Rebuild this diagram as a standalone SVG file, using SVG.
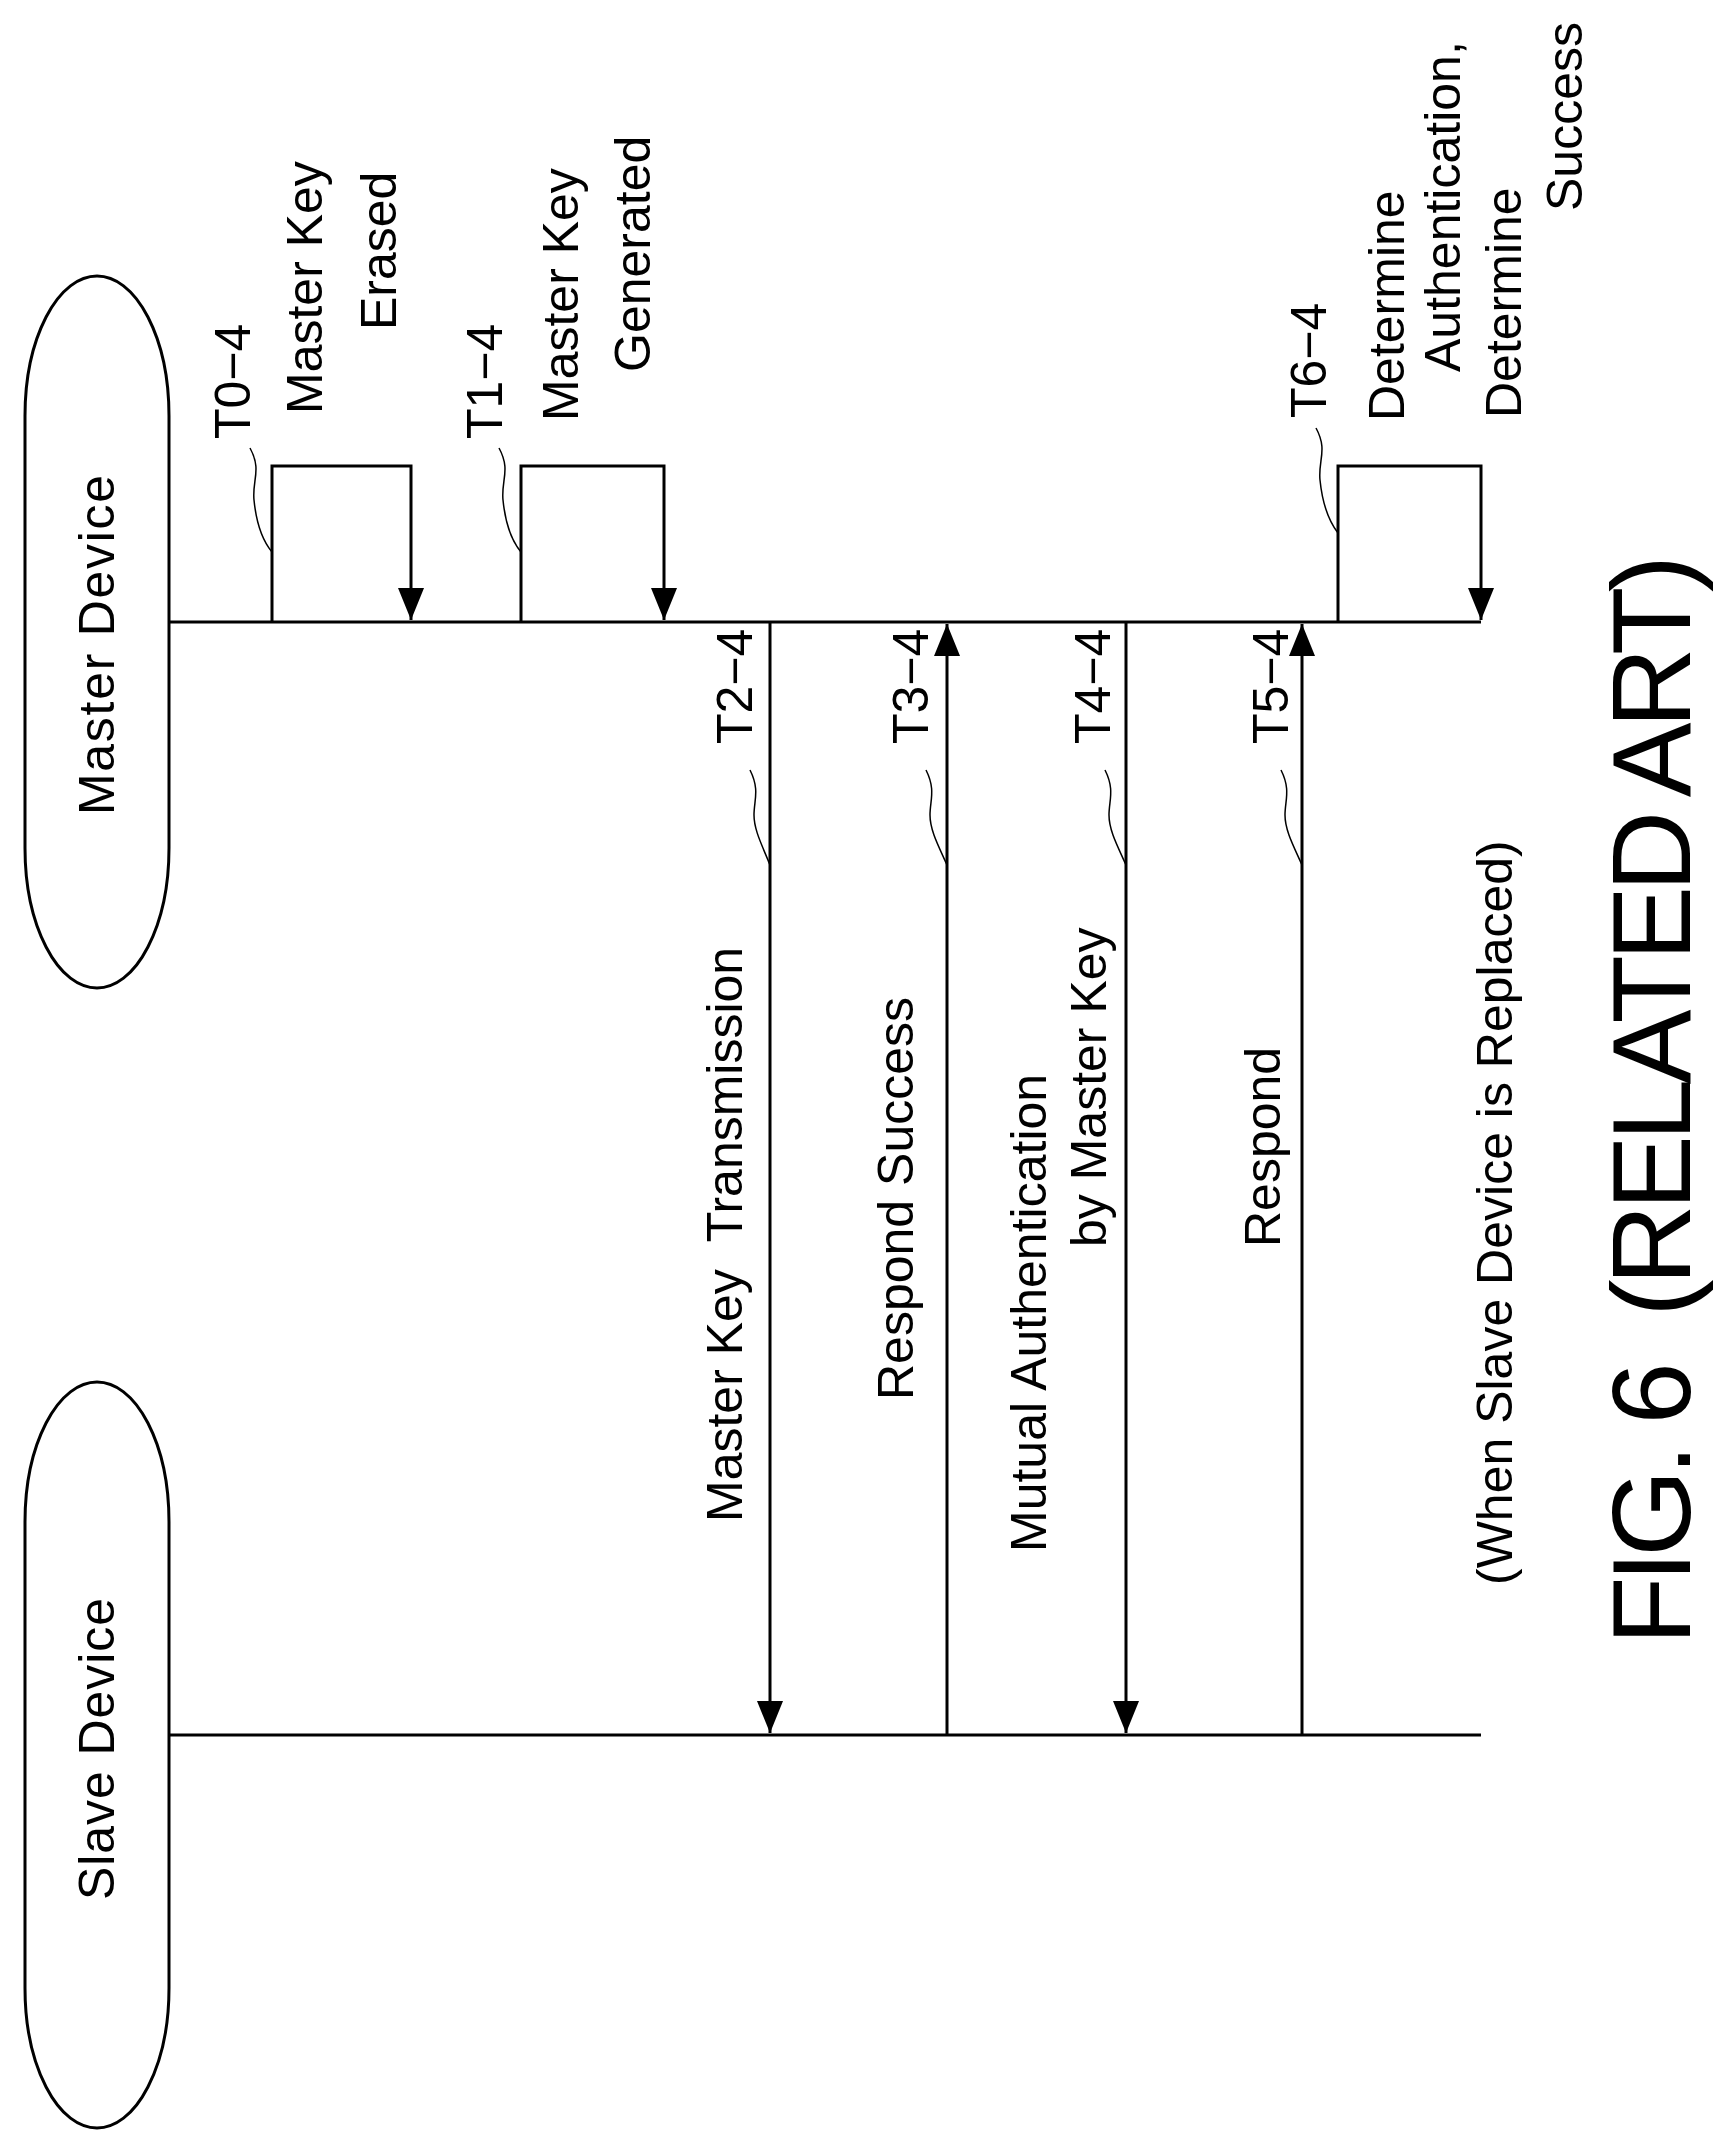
<svg xmlns="http://www.w3.org/2000/svg" width="1716" height="2156" viewBox="0 0 1716 2156">
<style>
.t{font-family:"Liberation Sans",Arial,sans-serif;font-size:50px;fill:#000}
.l{stroke:#000;stroke-width:3;fill:none}
.q{stroke:#000;stroke-width:1.5;fill:none}
</style>
<defs>
<marker id="ah" viewBox="0 0 10 10" refX="10" refY="5" markerWidth="10" markerHeight="10" markerUnits="userSpaceOnUse" orient="auto" style="overflow:visible">
<path d="M-32,-13 L0,0 L-32,13 Z" transform="translate(10,5)" fill="#000"/>
</marker>
</defs>
<rect width="1716" height="2156" fill="#fff"/>
<g id="master">
<rect x="25" y="276" width="144" height="712" rx="72" ry="140" class="l"/>
<text class="t" transform="translate(114,815) rotate(-90)" textLength="340">Master Device</text>
</g>
<g id="slave">
<rect x="25" y="1382" width="144" height="746" rx="72" ry="140" class="l"/>
<text class="t" transform="translate(114,1900) rotate(-90)" textLength="302">Slave Device</text>
</g>
<g id="connectors">
<line x1="169" y1="622" x2="1481" y2="622" class="l"/>
<line x1="169" y1="1735" x2="1481" y2="1735" class="l"/>
<path d="M272,622 V466 H411 V620" class="l" marker-end="url(#ah)"/>
<path d="M521,622 V466 H664 V620" class="l" marker-end="url(#ah)"/>
<path d="M1338,622 V466 H1481 V620" class="l" marker-end="url(#ah)"/>
<line x1="770" y1="622" x2="770" y2="1733" class="l" marker-end="url(#ah)"/>
<line x1="947" y1="1735" x2="947" y2="624" class="l" marker-end="url(#ah)"/>
<line x1="1126" y1="622" x2="1126" y2="1733" class="l" marker-end="url(#ah)"/>
<line x1="1302" y1="1735" x2="1302" y2="624" class="l" marker-end="url(#ah)"/>
<path d="M250,448 C262,470 252,480 254,500 S262,540 272,552" class="q"/>
<path d="M499,448 C511,470 501,480 503,500 S511,540 521,552" class="q"/>
<path d="M1316,428 C1328,450 1318,460 1320,480 S1328,520 1338,533" class="q"/>
<path d="M750,770 C760,790 754,800 754,815 S762,845 770,865" class="q"/>
<path d="M926,770 C936,790 930,800 930,815 S938,845 947,865" class="q"/>
<path d="M1105,770 C1115,790 1109,800 1109,815 S1117,845 1126,865" class="q"/>
<path d="M1281,770 C1291,790 1285,800 1285,815 S1293,845 1302,865" class="q"/>
</g>
<g id="labels">
<text class="t" transform="translate(250,439) rotate(-90)">T0−4</text>
<text class="t" transform="translate(322,414) rotate(-90)">Master Key</text>
<text class="t" transform="translate(396,330) rotate(-90)">Erased</text>
<text class="t" transform="translate(502,439) rotate(-90)">T1−4</text>
<text class="t" transform="translate(578,421) rotate(-90)">Master Key</text>
<text class="t" transform="translate(650,372) rotate(-90)">Generated</text>
<text class="t" transform="translate(1326,418) rotate(-90)">T6−4</text>
<text class="t" transform="translate(1404,421) rotate(-90)">Determine</text>
<text class="t" transform="translate(1460,372) rotate(-90)">Authentication,</text>
<text class="t" transform="translate(1521,418) rotate(-90)">Determine</text>
<text class="t" transform="translate(1582,211) rotate(-90)">Success</text>
<text class="t" transform="translate(752,744) rotate(-90)">T2−4</text>
<text class="t" transform="translate(928,744) rotate(-90)">T3−4</text>
<text class="t" transform="translate(1110,744) rotate(-90)">T4−4</text>
<text class="t" transform="translate(1288,744) rotate(-90)">T5−4</text>
<text class="t" transform="translate(742,1522) rotate(-90)" xml:space="preserve">Master Key  Transmission</text>
<text class="t" transform="translate(913,1400) rotate(-90)">Respond Success</text>
<text class="t" transform="translate(1046,1552) rotate(-90)">Mutual Authentication</text>
<text class="t" transform="translate(1106,1247) rotate(-90)">by Master Key</text>
<text class="t" transform="translate(1280,1247) rotate(-90)">Respond</text>
<text class="t" transform="translate(1512,1585) rotate(-90)">(When Slave Device is Replaced)</text>
<text class="t" style="font-size:112px" transform="translate(1690,1645) rotate(-90)" textLength="1090" xml:space="preserve">FIG. 6  (RELATED ART)</text>
</g>
</svg>
